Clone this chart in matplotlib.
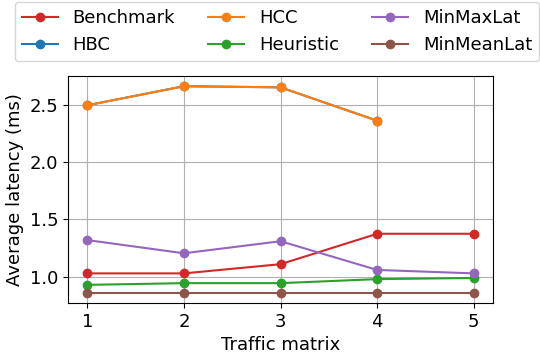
import numpy as np
from matplotlib import pyplot as plt

# traffic matrices on the x axis
matrices = [1, 2, 3, 4, 5]

# average latency (ms) per method
benchmark = [1.03, 1.03, 1.11, 1.375, 1.375]
hbc = [2.494, 2.66, 2.65, 2.36]
hcc = [2.494, 2.66, 2.65, 2.36]
heuristic = [0.93, 0.945, 0.945, 0.98, 0.99]
minmaxlat = [1.32, 1.205, 1.31, 1.06, 1.03]
minmeanlat = [0.863, 0.863, 0.863, 0.863, 0.863]

fig = plt.figure(figsize=(5.4, 3.53), dpi=100)
ax = fig.add_axes([0.126, 0.142, 0.787, 0.643])

ax.plot(matrices, benchmark, marker="o", color="#d62728", label="Benchmark")
ax.plot(matrices[:4], hbc, marker="o", color="#1f77b4", label="HBC")
ax.plot(matrices[:4], hcc, marker="o", color="#ff7f0e", label="HCC")
ax.plot(matrices, heuristic, marker="o", color="#2ca02c", label="Heuristic")
ax.plot(matrices, minmaxlat, marker="o", color="#9467bd", label="MinMaxLat")
ax.plot(matrices, minmeanlat, marker="o", color="#8c564b", label="MinMeanLat")

ax.set_xticks(matrices)
ax.set_yticks([1.0, 1.5, 2.0, 2.5])
ax.tick_params(axis="both", labelsize=13)
ax.grid(True)
ax.set_xlabel("Traffic matrix", fontsize=13)
ax.set_ylabel("Average latency (ms)", fontsize=13)

# legend above the plot, 3 columns
fig.legend(loc="upper center", bbox_to_anchor=(0.513, 1.0), ncol=3, fontsize=13,
           handletextpad=0.8, columnspacing=1.85, borderaxespad=0.1)

plt.savefig("out.png", dpi=100)
